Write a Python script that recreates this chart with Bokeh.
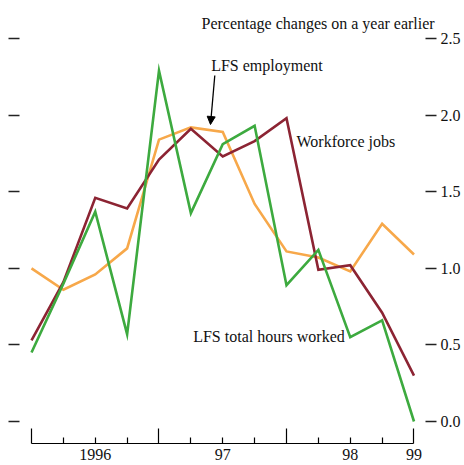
from bokeh.plotting import figure
from bokeh.models import (Range1d, LinearAxis, FixedTicker, CustomJSTickFormatter,
                          PrintfTickFormatter, Label, Arrow, NormalHead, ColumnDataSource)
from bokeh.embed import file_html
from bokeh.resources import INLINE

# ---- data (percentage changes on a year earlier) ----
quarter_x = [1996.0, 1996.25, 1996.5, 1996.75, 1997.0, 1997.25, 1997.5,
             1997.75, 1998.0, 1998.25, 1998.5, 1998.75, 1999.0]
lfs_employment = [1.00, 0.86, 0.96, 1.13, 1.84, 1.92, 1.89, 1.42, 1.11, 1.07, 0.98, 1.29, 1.09]
workforce_jobs = [0.53, 0.91, 1.46, 1.39, 1.71, 1.91, 1.73, 1.83, 1.98, 0.99, 1.02, 0.71, 0.30]
lfs_hours = [0.45, 0.90, 1.37, 0.57, 2.29, 1.36, 1.81, 1.93, 0.89, 1.12, 0.55, 0.66, 0.00]

year_ticks = [1996, 1997, 1998, 1999]
quarter_ticks = [1996.25, 1996.5, 1996.75, 1997.25, 1997.5, 1997.75, 1998.25, 1998.5, 1998.75]
year_label_pos = [1996.5, 1997.5, 1998.5, 1999.0]
year_labels = ["1996", "97", "98", "99"]
y_ticks = [0.0, 0.5, 1.0, 1.5, 2.0, 2.5]

FONT = "Liberation Serif"
FS = "16px"
C_EMP = "#F7A84A"
C_JOBS = "#8C2433"
C_HOURS = "#3DAA3F"

src = ColumnDataSource(dict(x=quarter_x, emp=lfs_employment, jobs=workforce_jobs, hours=lfs_hours))

p = figure(frame_width=428, frame_height=443, output_backend="svg", toolbar_location=None,
           x_range=Range1d(1995.8196, 1999.1765), y_range=Range1d(-0.1436, 2.748),
           min_border_left=8, min_border_right=28, min_border_top=0, min_border_bottom=0)
p.grid.visible = False
p.outline_line_color = None
p.background_fill_color = "white"
p.border_fill_color = "white"

blank = CustomJSTickFormatter(code="return '';")

# left axis: tick marks only (drawn inward from the frame edge)
ya = p.yaxis[0]
ya.ticker = FixedTicker(ticks=y_ticks)
ya.formatter = blank
ya.axis_line_color = None
ya.major_tick_in = 11
ya.major_tick_out = 0
ya.major_tick_line_width = 1.6
ya.major_tick_line_color = "#222222"
ya.minor_tick_line_color = None
ya.major_label_standoff = 0

# right axis with labels
ry = LinearAxis(ticker=FixedTicker(ticks=y_ticks), formatter=PrintfTickFormatter(format="%.1f"))
ry.axis_line_color = None
ry.major_tick_in = 11
ry.major_tick_out = 0
ry.major_tick_line_width = 1.6
ry.major_tick_line_color = "#222222"
ry.minor_tick_line_color = None
ry.major_label_standoff = 4
ry.major_label_text_font = FONT
ry.major_label_text_font_size = FS
ry.major_label_text_color = "#111111"
p.add_layout(ry, "right")

# bottom axis: line + year/quarter ticks
xa = p.xaxis[0]
xa.ticker = FixedTicker(ticks=year_ticks, minor_ticks=quarter_ticks)
xa.bounds = (year_ticks[0], year_ticks[-1])
xa.formatter = blank
xa.axis_line_color = "black"
xa.axis_line_width = 1.2
xa.major_tick_in = 15
xa.major_tick_out = 0
xa.minor_tick_in = 6
xa.minor_tick_out = 0
xa.major_tick_line_color = "black"
xa.minor_tick_line_color = "black"
xa.major_tick_line_width = 1.2
xa.minor_tick_line_width = 1.2
xa.major_label_standoff = 0

# second bottom axis: year labels only
lab_fmt = CustomJSTickFormatter(args=dict(pos=year_label_pos, labs=year_labels), code="""
for (let i = 0; i < pos.length; i++) { if (Math.abs(tick - pos[i]) < 1e-6) return labs[i]; }
return '';
""")
xl = LinearAxis(ticker=FixedTicker(ticks=year_label_pos), formatter=lab_fmt)
xl.axis_line_color = None
xl.major_tick_line_color = None
xl.minor_tick_line_color = None
xl.major_tick_in = 0
xl.major_tick_out = 0
xl.major_label_standoff = 5
xl.major_label_text_font = FONT
xl.major_label_text_font_size = FS
xl.major_label_text_color = "#111111"
p.add_layout(xl, "below")

# series
p.line("x", "emp", source=src, line_color=C_EMP, line_width=2.6, line_join="miter")
p.line("x", "jobs", source=src, line_color=C_JOBS, line_width=2.6, line_join="miter")
p.line("x", "hours", source=src, line_color=C_HOURS, line_width=2.6, line_join="miter")

# annotations
def add_label(x, y, t):
    p.add_layout(Label(x=x, y=y, text=t, text_font=FONT, text_font_size=FS,
                       text_baseline="alphabetic", text_color="#111111"))

add_label(1997.3333, 2.5947, "Percentage changes on a year earlier")
add_label(1997.4094, 2.3206, "LFS employment")
add_label(1998.0784, 1.8245, "Workforce jobs")
add_label(1997.2682, 0.5536, "LFS total hours worked")

p.add_layout(Arrow(end=NormalHead(size=8, fill_color="black", line_color="black", line_width=1),
                   x_start=1997.4376, y_start=2.2585, x_end=1997.4039, y_end=1.9386,
                   line_color="black", line_width=1.3))

open("out.html", "w").write(file_html(p, INLINE, "chart"))
